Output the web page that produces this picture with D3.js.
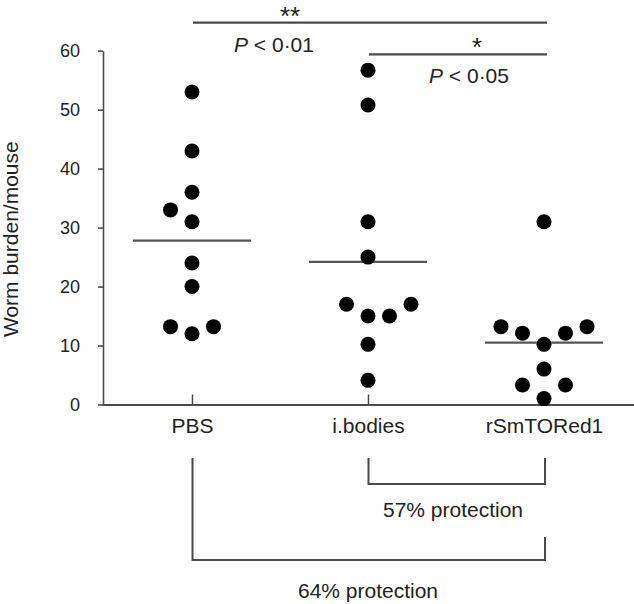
<!DOCTYPE html>
<html>
<head>
<meta charset="utf-8">
<script src="https://cdn.jsdelivr.net/npm/d3@7"></script>
<style>
  html, body { margin: 0; padding: 0; background: #fff; }
  svg text { font-family: Arial, "Liberation Sans", Helvetica, sans-serif; fill: #222; }
</style>
</head>
<body>
<div id="chart"></div>
<script>
// --- données ---
const groups = ["PBS", "i.bodies", "rSmTORed1"];
const pbsValues = [53, 43, 36, 33, 31, 24, 20, 13.2, 13.2, 12];
const pbsLanes = [0, 0, 0, -1, 0, 0, 0, -1, 1, 0];
const ibodiesValues = [56.7, 50.8, 31, 25, 17, 17, 15, 15, 10.2, 4.1];
const ibodiesLanes = [0, 0, 0, 0, -1, 2, 0, 1, 0, 0];
const rsmValues = [31, 13.2, 12.1, 12.1, 13.2, 10.2, 6, 3.3, 3.3, 1];
const rsmLanes = [0, -2, -1, 1, 2, 0, 0, -1, 1, 0];
const groupMeans = [27.8, 24.2, 10.5];
const yTicks = [0, 10, 20, 30, 40, 50, 60];
const yTitle = "Worm burden/mouse";
const protectionLabels = ["57% protection", "64% protection"];

const points = [
  ...pbsValues.map((v, i) => ({group: "PBS", value: v, lane: pbsLanes[i]})),
  ...ibodiesValues.map((v, i) => ({group: "i.bodies", value: v, lane: ibodiesLanes[i]})),
  ...rsmValues.map((v, i) => ({group: "rSmTORed1", value: v, lane: rsmLanes[i]}))
];

const W = 634, H = 604;
const svg = d3.select("#chart").append("svg").attr("width", W).attr("height", H);

const axisX = 103, axisBottom = 404.5, axisTop = 50.7;
const x = d3.scalePoint().domain(groups).range([192, 544]);
const y = d3.scaleLinear().domain([0, 60]).range([axisBottom, axisTop]);
const laneW = 21.5;
const lineColor = "#4a4a4a";

// axe Y
const yAxis = svg.append("g")
  .attr("transform", `translate(${axisX},0)`)
  .call(d3.axisLeft(y).tickValues(yTicks).tickSize(5).tickSizeOuter(0).tickPadding(18));
yAxis.selectAll("path, line").attr("stroke", lineColor).attr("stroke-width", 1.6);
yAxis.selectAll("text").style("font-size", "18px").attr("fill", "#222");

svg.append("text")
  .attr("transform", `translate(18,337) rotate(-90)`)
  .attr("text-anchor", "start")
  .style("font-size", "21px")
  .text(yTitle);

// axe X
svg.append("line")
  .attr("x1", axisX).attr("x2", W).attr("y1", axisBottom + 0.5).attr("y2", axisBottom + 0.5)
  .attr("stroke", lineColor).attr("stroke-width", 2);
const xAxis = svg.append("g")
  .attr("transform", `translate(0,${axisBottom})`)
  .call(d3.axisBottom(x).tickSize(-10).tickPadding(14));
xAxis.select(".domain").remove();
xAxis.selectAll("line").attr("stroke", lineColor).attr("stroke-width", 1.5);
xAxis.selectAll("text").style("font-size", "21px").attr("fill", "#222");

// moyennes
svg.selectAll(".mean")
  .data(groups)
  .join("line")
  .attr("class", "mean")
  .attr("x1", d => x(d) - 59).attr("x2", d => x(d) + 59)
  .attr("y1", (d, i) => y(groupMeans[i])).attr("y2", (d, i) => y(groupMeans[i]))
  .attr("stroke", "#555").attr("stroke-width", 2.2);

// points
svg.selectAll(".dot")
  .data(points)
  .join("circle")
  .attr("class", "dot")
  .attr("cx", d => x(d.group) + d.lane * laneW)
  .attr("cy", d => y(d.value))
  .attr("r", 7.5)
  .attr("fill", "#000");

// significativité en haut
function hline(x1, x2, yy) {
  svg.append("line").attr("x1", x1).attr("x2", x2).attr("y1", yy).attr("y2", yy)
    .attr("stroke", lineColor).attr("stroke-width", 2.2);
}
hline(x("PBS") + 1, x("rSmTORed1") + 3, 22.7);
hline(x("i.bodies") + 1, x("rSmTORed1") + 3, 54.3);

svg.append("text").attr("x", 290).attr("y", 25).attr("text-anchor", "middle")
  .style("font-size", "26px").text("**");
svg.append("text").attr("x", 477).attr("y", 56).attr("text-anchor", "middle")
  .style("font-size", "26px").text("*");

function pText(cx, by, val) {
  const t = svg.append("text").attr("x", cx).attr("y", by).attr("text-anchor", "middle")
    .style("font-size", "21px");
  t.append("tspan").style("font-style", "italic").text("P");
  t.append("tspan").text(" < " + val);
}
pText(274, 52, "0·01");
pText(469, 83, "0·05");

// crochets de protection
function bracket(g1, g2, yTopL, yTopR, yBot) {
  const x1 = x(g1) + 0.5, x2 = x(g2) + 1;
  svg.append("path")
    .attr("d", `M${x1},${yTopL}V${yBot}H${x2}V${yTopR}`)
    .attr("fill", "none").attr("stroke", lineColor).attr("stroke-width", 2);
}
bracket("i.bodies", "rSmTORed1", 458, 458, 484);
bracket("PBS", "rSmTORed1", 458, 537, 560);

svg.append("text").attr("x", 453).attr("y", 517).attr("text-anchor", "middle")
  .style("font-size", "21px").text(protectionLabels[0]);
svg.append("text").attr("x", 368).attr("y", 598).attr("text-anchor", "middle")
  .style("font-size", "21px").text(protectionLabels[1]);
</script>
</body>
</html>
